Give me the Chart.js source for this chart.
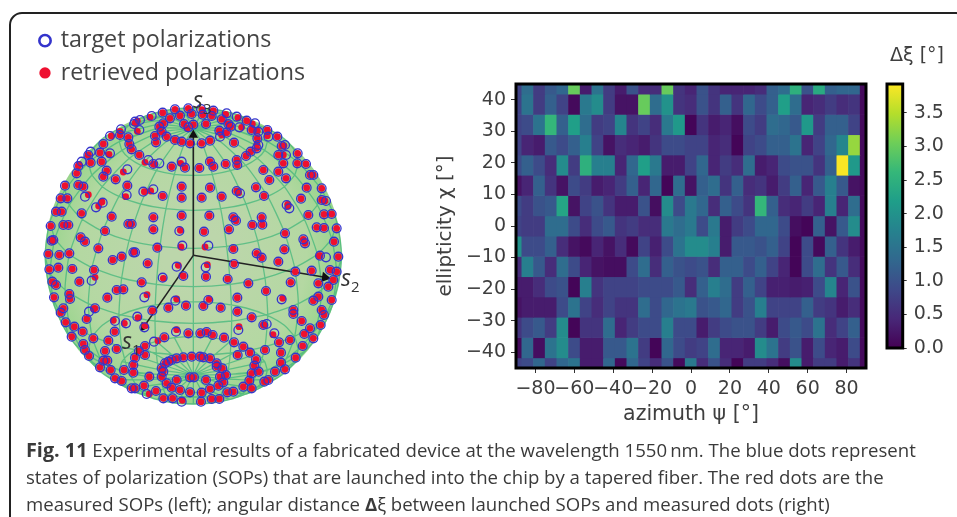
<!DOCTYPE html>
<html><head><meta charset="utf-8">
<script src="https://cdn.jsdelivr.net/npm/chart.js@4"></script>
<style>
html,body{margin:0;padding:0;background:#fff;width:957px;height:517px;overflow:hidden}
canvas{position:absolute;filter:blur(.6px)}
#frame{position:absolute;left:9px;top:12px;width:960px;height:520px;border:2px solid #222;border-radius:13px;box-sizing:border-box}
.cap{position:absolute;left:26px;font:18.6px 'Open Sans',sans-serif;color:#3a3a3a;white-space:nowrap;filter:blur(.3px)}
.cap b.fig{font-size:19.8px}
.axl{position:absolute;font:italic 23px 'Open Sans',sans-serif;color:#333;line-height:1;filter:blur(.4px)}
.axl sub{font-size:15px;font-style:normal}
</style></head><body>
<div id="frame"></div>
<canvas id="sphere" width="440" height="400" style="left:0;top:20px"></canvas>
<canvas id="heat" width="450" height="368" style="left:430px;top:60px"></canvas>
<canvas id="bar" width="87" height="330" style="left:870px;top:40px"></canvas>
<span class="axl" style="left:193px;top:88px"><i>s</i><sub>3</sub></span>
<span class="axl" style="left:122px;top:329px"><i>s</i><sub>1</sub></span>
<span class="axl" style="left:341px;top:266px"><i>s</i><sub>2</sub></span>
<div class="cap" style="top:436px"><b class="fig">Fig. 11</b> Experimental results of a fabricated device at the wavelength 1550&#8201;nm. The blue dots represent</div>
<div class="cap" style="top:464px">states of polarization (SOPs) that are launched into the chip by a tapered fiber. The red dots are the</div>
<div class="cap" style="top:491px">measured SOPs (left); angular distance <b>Δ</b>ξ between launched SOPs and measured dots (right)</div>
<script>
// ---------- right panel: angular distance per (azimuth, ellipticity) ----------
const azimuths=[-90,-84,-78,-72,-66,-60,-54,-48,-42,-36,-30,-24,-18,-12,-6,0,6,12,18,24,30,36,42,48,54,60,66,72,78,84,90];
const ellipticities=[45,38.57,32.14,25.71,19.29,12.86,6.43,0,-6.43,-12.86,-19.29,-25.71,-32.14,-38.57,-45];
const azimuthTicks=[-80,-60,-40,-20,0,20,40,60,80];
const ellipticityTicks=[-40,-30,-20,-10,0,10,20,30,40];
const colorbarTicks=[0,.5,1,1.5,2,2.5,3,3.5];
const distanceRow0=[.8,1.4,.7,1.1,1.3,3,.3,1.5,.7,.3,1,.5,.5,3,.6,.4,1,.6,.4,.4,.4,.5,1.2,1.4,2.5,1,2.4,1.2,1.3,1.3,.1];
const distanceRow1=[.8,1.5,.7,1.2,.8,.1,1.6,1.9,.7,.2,.2,3,1.4,2,.6,.5,1,.6,1.2,.6,1.3,.9,1.2,2.2,1.4,.4,.5,.7,.5,.6,.1];
const distanceRow2=[.8,.9,1.5,2.6,1.2,2.2,1.4,.7,.8,1.8,.6,.8,.5,1.6,2.1,.05,.6,.3,.4,.15,.9,.7,1.4,1.3,1.1,2.1,.7,1.2,1.2,.8,.1];
const distanceRow3=[.8,.4,.3,1.1,.9,1.2,1.7,.8,.2,.5,.4,.3,.6,.9,.9,.8,.8,.4,.5,.05,.8,.9,1.2,1.2,1.5,.4,.8,1.3,1.8,3.3,.1];
const distanceRow4=[.9,1.2,.9,.5,1.9,.7,2.5,1.7,1.7,.4,1.3,2.2,1.6,.3,.3,.8,1.3,.4,.7,.5,1.4,.3,.4,.9,1,1,.6,1.2,3.9,2.1,.1];
const distanceRow5=[.2,.4,1.2,.6,.2,.9,.7,.3,.4,.7,1.2,.4,1.3,.05,1.4,.2,1.2,1.4,.6,1.2,.5,.6,.3,.7,1.2,.4,1.1,1.7,1.1,.2,.1];
const distanceRow6=[.9,.7,1,1.1,2.3,.2,.8,1,.6,.3,.3,1,.15,1.9,.9,1.6,1.3,.5,1.2,.9,.6,2.6,1.2,.5,.4,.7,.4,1.7,.4,1.4,.1];
const distanceRow7=[.8,.7,.7,1.4,1.4,.9,.5,.9,1.1,.6,.7,.5,.5,1.6,1.4,1.6,.9,1.6,.3,.7,.9,1.3,1.3,.9,.15,.05,1.2,.2,1.1,1.9,.1];
const distanceRow8=[2,.9,.9,1.2,.5,.2,.1,.4,.2,.5,.1,.8,.35,.9,1.5,1.9,1.9,1.7,.3,1.1,1.1,1,1.2,.8,.05,.9,.1,1.2,.6,.3,.1];
const distanceRow9=[.5,1.7,1.1,.5,1.4,.9,.4,.2,.15,.15,.9,1.4,.5,1.2,1,.9,1,.5,1.2,1.2,.9,1.2,.8,.4,.05,.9,1.4,.6,1.1,.5,.1];
const distanceRow10=[.3,.3,.5,.9,1,.05,1.7,.6,.8,.8,.8,.9,.9,.9,1.1,.5,1.2,1.7,1.4,.7,1.2,.8,.35,.35,.3,.35,.9,1.8,.4,1,.1];
const distanceRow11=[.2,.3,.3,.3,.9,1.5,.8,.5,.8,.6,.6,1.4,.9,1.3,1.5,1.6,1,1.1,1.3,.7,1,1.7,.8,.8,.8,1.2,.7,.6,.3,.5,.1];
const distanceRow12=[.6,.9,1.1,.7,1.9,.05,.6,.6,1.4,.4,.7,.9,.9,1.7,.9,.9,.3,.7,.9,1,1,.7,.3,.9,1.1,.9,1.5,.5,.8,1.2,.1];
const distanceRow13=[.1,1.3,.15,1.5,1.9,.9,.3,.3,1.1,1.1,1.5,.7,.05,1.3,.9,.7,.8,1.4,.4,.4,.3,1.9,1.5,.7,1,.3,.9,.4,.3,.9,.1];
const distanceRow14=[.8,.9,1.3,.8,1.3,1.5,.3,.3,1.3,.1,1.3,.8,.5,1,.1,1.6,.5,1,.5,.05,.7,.7,.5,.15,1.9,.3,.7,.7,.3,.6,.1];
const distanceRows=[distanceRow0,distanceRow1,distanceRow2,distanceRow3,distanceRow4,distanceRow5,distanceRow6,distanceRow7,distanceRow8,distanceRow9,distanceRow10,distanceRow11,distanceRow12,distanceRow13,distanceRow14];
const viridisStops=['#440154','#482878','#3e4989','#31688e','#26828e','#1f9e89','#35b779','#6ece58','#b5de2b','#fde725'];
const colorMax=3.93;

// ---------- left panel: projected positions read off the sphere ----------
// [x, y, dx, dy]: x,y locate the target state; dx,dy the shift of the retrieved state from it
const polarPoints=[
[492,312],[520,314],[558,312],[505,322,-3,3],
[428,278],[465,268],[505,265],[543,267,3,2],[580,272],[620,280,-3,3],
[430,310],[450,295],[480,287],[515,282],[548,284],[575,288],[605,298],[625,312],[632,320],[620,338],[600,350,5,-5],[570,362],[545,370],[510,370],[485,365],[465,360],[440,350],[425,335],[418,320],
[395,288,-5,4],[360,300,-8,3],[342,312,4,-3],[303,328,-3,6],[270,348,4,0],[300,345],[325,352],[358,330,-6,4],[345,305,2,4],
[650,290,4,3],[680,302],[705,310,-8,2],[695,330],[715,335,-3,-2],[742,330],[745,350,-3,-3],[772,350],[712,355],[715,375,-4,-3],[795,375,-3,2],[785,378],[710,385],[692,395],[678,408],
[405,348],[408,367],[642,368],[658,322,7,0],[598,332],
[250,372],[328,372],[335,388],[358,405],[385,420,-10,7],[400,432],[418,430,-14,3],[212,395,-8,10],[240,398],[270,400,-3,3],[205,405],[185,425,-8,8],[175,438],[212,428],[245,425],[322,448,-12,8],[260,452],[250,470],[287,478],[170,460],[322,497],[135,497],[175,495],[190,500],
[485,425,-3,5],[495,443],[455,440],[538,444],[570,425],[580,440],[617,432],[650,420],[652,435],[730,450],[775,455],[748,480],[798,475],[790,430],[775,405],[798,405,-8,0],[833,400],[832,430],[858,432],[870,465],[880,465],[860,503],[905,505],[905,540],[918,543,-3,0],
[320,525,-3,5],[370,515,3,0],[400,508,-8,5],[428,528],[485,500],[485,533],[570,503],[545,533],[605,530],[650,513],[660,520,-4,-2],[708,502],[732,528],[800,555,3,-2],[808,565,-4,-6],[843,536],[865,585],[912,583],[935,582],
[122,535],[142,535],[195,530,10,-6],[248,548,-2,-2],[228,562,8,-4],[108,575],[125,575],[185,580],[275,590],[400,592],[485,587],[568,587],[640,592],[725,592],
[92,618],[130,615],[145,615],[255,633],[325,612],[335,612],[400,628],[478,633,3,-2],[552,635],[627,628],[648,602],[697,615],[727,614],[795,640],[890,622],[912,624],[950,625],[850,658],[855,670],[942,665],
[100,660],[95,662],[182,652],[195,665],[235,685],[345,697,-2,-2],[412,683],[487,677,-4,4],[565,677,-10,4],[640,687],[710,700],[725,713],[793,688],[85,702],[118,705],[148,700],[278,720],[305,710],[340,697],[383,730],[775,725],[900,707],[918,712,-20,-4],[955,710],[470,740,5,-4],[557,742,5,-8],[642,732],
[88,748],[115,743],[157,747],[222,750],[215,782,10,-10],[365,787],[428,773,2,2],[490,768],[558,770],[623,777],[685,790],[738,813],[812,787],[826,755],[875,752],[895,790],[930,750],[950,755],[940,780],[925,800],[935,840],[895,830],[880,842],[785,838,3,-3],[652,833],
[97,785],[108,795],[178,785],[102,832],[148,822],[150,837],[262,833],[290,810],[310,808],[373,832,8,-8],[466,842,4,-5],[445,863],[498,857],[550,858],[565,840,2,-2],[602,863],[652,875],[695,892],
[130,865],[122,878],[200,897],[225,865],[207,875,14,-8],[137,907],[163,920],[285,903,-5,-2],[318,910,-5,0],[352,890,2,3],[397,872],[373,922,2,-5],[820,870],[820,882],[845,903],[905,870],[912,885],[902,915],[870,925],[853,942],[880,955],[810,960],[777,967],[763,940,-4,4],[740,912,-8,3],[730,915],[655,930,2,-10],
[468,935,2,-6],[505,940],[541,940],[560,936],[578,945],[612,953],[642,967],[670,980],[690,998],[708,1018],[703,1037],[653,1005],[735,990],[783,998],[848,978],[827,1013],[783,1028],[795,1048],[765,1055],[745,1080],[733,1085],[716,1055],[695,1060],[688,1082],[670,1100],[695,1105],[640,1115],[622,1117],[598,1137],[575,1137],[543,1145],[485,1145,2,-4],[458,1135],[430,1135],[408,1113],[380,1122,8,0],[345,1105],[335,1105],[372,1097],[388,1070],[340,1035],[340,1058],[345,1013],[375,1005],[357,993],[375,978],[402,965,12,-3],[433,952],
[290,987],[265,962],[284,935],[220,955],[188,935],[155,950],[190,972],[195,990],[207,1008],[250,1022],[262,1022],[240,1042],[255,993],[272,1050],[285,1075],[305,1083],[312,1050],
[425,1045],[435,1030],[455,1020],[490,1012],[515,1010],[540,1010],[570,1015],[590,1030],[607,1045],[618,1065],[610,1087],[595,1097],[570,1107],[545,1118],[510,1117],[480,1110],[455,1103],[440,1090],[425,1070],[445,1025],[470,1015],[550,1012],[590,1040],[600,1070],[430,1055],
[470,1080],[510,1072],[522,1072],[558,1080]
];
const sphereCentre=[520,708];
const axisOrigin=[520,706];
const axisS3Tip=[520,345];
const axisS2Tip=[915,772];
const axisS1Tip=[372,920];
// wireframe: rows are parallels, columns meridians; lower half of each ring as seen in the picture
const mirror=a=>a.concat(a.slice(0,-1).reverse());
const poleTop=[520,325], poleBottom=[520,1065];
const meshX=[
[415,419,429,446,468,493,520,547,572,594,611,621,625],
[298,306,328,363,409,463,520,577,631,677,712,734,742],
[205,216,247,297,362,438,520,602,678,743,793,824,835],
[135,148,187,248,327,420,520,620,713,792,853,892,905],
[90,105,148,216,305,409,520,631,735,824,892,935,950],
[75,90,135,205,297,405,520,635,743,835,905,950,965],
[90,105,148,216,305,409,520,631,735,824,892,935,950],
[135,148,187,248,327,420,520,620,713,792,853,892,905],
[205,216,247,297,362,438,520,602,678,743,793,824,835],
[298,306,328,363,409,463,520,577,631,677,712,734,742],
[415,419,429,446,468,493,520,547,572,594,611,621,625]];
const meshY=[
[325,337,349,359,367,371,373],[365,391,415,436,452,463,466],[428,465,500,529,552,566,571],
[510,555,598,634,662,679,685],[605,656,703,743,774,793,800],[708,760,809,851,883,903,910],
[811,862,909,949,980,999,1006],[906,951,994,1030,1058,1075,1081],[988,1025,1060,1089,1112,1126,1131],
[1051,1077,1101,1122,1138,1149,1152],[1063,1077,1091,1102,1111,1116,1118]];
const meshRearY={0:[325,313,301,291,283,279,277],1:[365,339,315,294,278,267,264],2:[428,391,356,327,304,290,285],
8:[988,951,916,887,864,850,845],9:[1051,1025,1001,980,964,953,950],10:[1063,1049,1035,1024,1015,1010,1008]};

const wirePoints=[];
const gap=()=>wirePoints.push({x:NaN,y:NaN});
meshX.forEach((xs,r)=>{
  const ys=mirror(meshY[r]);
  xs.forEach((x,c)=>wirePoints.push({x,y:ys[c]})); gap();
  if(meshRearY[r]){const yr=mirror(meshRearY[r]);xs.forEach((x,c)=>wirePoints.push({x,y:yr[c]})); gap();}
});
meshX[0].forEach((_,c)=>{
  wirePoints.push({x:poleTop[0],y:poleTop[1]});
  meshX.forEach((xs,r)=>wirePoints.push({x:xs[c],y:mirror(meshY[r])[c]}));
  wirePoints.push({x:poleBottom[0],y:poleBottom[1]}); gap();
  wirePoints.push({x:poleTop[0],y:poleTop[1]});
  wirePoints.push({x:meshX[0][c],y:mirror(meshRearY[0])[c]});
  wirePoints.push({x:meshX[1][c],y:mirror(meshRearY[1])[c]}); gap();
  wirePoints.push({x:poleBottom[0],y:poleBottom[1]});
  wirePoints.push({x:meshX[10][c],y:mirror(meshRearY[10])[c]});
  wirePoints.push({x:meshX[9][c],y:mirror(meshRearY[9])[c]}); gap();
});

const pt=a=>({x:a[0],y:a[1]});
const INK='#3f3f3f';
function lerpHex(a,b,t){const p=h=>[1,3,5].map(i=>parseInt(h.substr(i,2),16));const A=p(a),B=p(b);
  return 'rgb('+A.map((v,i)=>Math.round(v+(B[i]-v)*t)).join(',')+')';}
function viridis(v){const t=Math.min(1,Math.max(0,v/colorMax))*(viridisStops.length-1);const i=Math.min(viridisStops.length-2,Math.floor(t));
  return lerpHex(viridisStops[i],viridisStops[i+1],t-i);}
const framePlugin={id:'frame',afterDatasetsDraw(c){const a=c.chartArea,x=c.ctx;x.save();x.strokeStyle='#000';x.lineWidth=3;
  x.strokeRect(a.left,a.top,a.right-a.left,a.bottom-a.top);x.restore();}};
const tickFont={family:'DejaVu Sans',size:19};

// sphere
new Chart(document.getElementById('sphere'),{
  type:'scatter',
  data:{datasets:[
    {label:'target polarizations',data:polarPoints.map(p=>({x:p[0],y:p[1]})),pointStyle:'circle',pointRadius:4.4,pointBorderWidth:1.3,pointBorderColor:'#3434cc',pointBackgroundColor:'rgba(0,0,0,0)',borderColor:'#3434cc',backgroundColor:'rgba(0,0,0,0)',order:1},
    {label:'retrieved polarizations',data:polarPoints.map(p=>({x:p[0]+(p[2]||0),y:p[1]+(p[3]||0)})),pointStyle:'circle',pointRadius:3.4,pointBorderWidth:0,pointBackgroundColor:'#ee1030',borderColor:'#ee1030',backgroundColor:'#ee1030',order:2},
    {label:'s3',data:[axisOrigin,axisS3Tip].map(pt),showLine:true,borderColor:'#222',borderWidth:1.6,pointRadius:[0,5.5],pointStyle:'triangle',pointRotation:[0,0],pointBackgroundColor:'#111',pointBorderWidth:0,order:3},
    {label:'s2',data:[axisOrigin,axisS2Tip].map(pt),showLine:true,borderColor:'#222',borderWidth:1.6,pointRadius:[0,6],pointStyle:'triangle',pointRotation:[0,100],pointBackgroundColor:'#111',pointBorderWidth:0,order:3},
    {label:'s1',data:[axisOrigin,axisS1Tip].map(pt),showLine:true,borderColor:'#222',borderWidth:1.6,pointRadius:[0,5.5],pointStyle:'triangle',pointRotation:[0,215],pointBackgroundColor:'#111',pointBorderWidth:0,order:3},
    {label:'mesh',data:wirePoints,showLine:true,spanGaps:false,tension:.2,borderColor:'rgba(62,182,122,.72)',borderWidth:1.3,pointRadius:0,order:4},
    {label:'ball',data:[pt(sphereCentre)],pointRadius:148.5,pointBorderWidth:0,clip:false,order:5,
     pointBackgroundColor(ctx){const c=ctx.chart,a=c.chartArea;if(!a)return '#b5d6a4';
       const X=c.scales.x.getPixelForValue(sphereCentre[0]),Y=c.scales.y.getPixelForValue(sphereCentre[1]);
       const g=c.ctx.createRadialGradient(X,Y,30,X,Y,149);g.addColorStop(0,'#bcd6ab');g.addColorStop(.7,'#b4d8a2');g.addColorStop(1,'#98d48c');return g;}}
  ]},
  options:{responsive:false,animation:false,devicePixelRatio:1,layout:{padding:{left:32},autoPadding:false},
    scales:{x:{type:'linear',display:false,min:36,max:1260},y:{type:'linear',display:false,min:0,max:1200,reverse:true}},
    plugins:{tooltip:{enabled:false},title:{display:false},
      legend:{position:'chartArea',align:'start',padding:{top:7},
        labels:{usePointStyle:true,boxWidth:8,boxHeight:8,padding:9,color:'#444',font:{family:'Open Sans',size:23.3},
          filter:i=>i.datasetIndex<2,
          generateLabels(c){return c.data.datasets.slice(0,2).map((d,i)=>({text:d.label,datasetIndex:i,pointStyle:'circle',
            fillStyle:i?'#ee1030':'rgba(0,0,0,0)',strokeStyle:i?'#ee1030':'#3434cc',lineWidth:i?0:2.6,fontColor:'#444'}));}}}}
  }
});

// heat map
const stepChi=90/14;
new Chart(document.getElementById('heat'),{
  type:'bar',
  data:{datasets:ellipticities.map((chi,j)=>({
    label:'χ '+chi,
    data:azimuths.map(psi=>({x:psi,y:[chi-stepChi/2,chi+stepChi/2]})),
    backgroundColor:distanceRows[j].map(viridis),
    borderWidth:0,grouped:false,categoryPercentage:1,barPercentage:1}))},
  options:{responsive:false,animation:false,devicePixelRatio:1,
    layout:{padding:{top:24,right:14,left:0,bottom:0}},
    plugins:{legend:{display:false},tooltip:{enabled:false}},
    scales:{
      x:{type:'linear',min:-90,max:90,offset:false,
        afterBuildTicks(s){s.ticks=azimuthTicks.map(value=>({value}));},
        afterFit(s){s.height=60;},
        grid:{display:true,drawOnChartArea:false,drawTicks:true,tickLength:5,color:'#333',offset:false},border:{display:false},
        ticks:{font:tickFont,color:INK,minRotation:0,maxRotation:0,autoSkip:false,padding:5,callback:v=>String(v).replace('-','−')},
        title:{display:true,text:'azimuth ψ [°]',font:{family:'DejaVu Sans',size:20.5},color:INK,padding:{top:0,bottom:1}}},
      y:{type:'linear',min:-45,max:45,
        afterBuildTicks(s){s.ticks=ellipticityTicks.map(value=>({value}));},
        afterFit(s){s.width=86;},
        grid:{display:true,drawOnChartArea:false,drawTicks:true,tickLength:5,color:'#333'},border:{display:false},
        ticks:{font:tickFont,color:INK,autoSkip:false,padding:5,callback:v=>String(v).replace('-','−')},
        title:{display:true,text:'ellipticity χ [°]',font:{family:'DejaVu Sans',size:20},color:INK,padding:{top:4,bottom:0}}}
    }},
  plugins:[framePlugin]
});

// colour bar
new Chart(document.getElementById('bar'),{
  type:'bar',
  data:{labels:['Δξ'],datasets:[{data:[[0,colorMax]],borderWidth:0,categoryPercentage:1,barPercentage:1,
    backgroundColor(ctx){const c=ctx.chart,a=c.chartArea;if(!a)return '#000';
      const g=c.ctx.createLinearGradient(0,a.bottom,0,a.top);viridisStops.forEach((s,i)=>g.addColorStop(i/(viridisStops.length-1),s));return g;}}]},
  options:{responsive:false,animation:false,devicePixelRatio:1,
    layout:{padding:{left:17,right:13,top:0,bottom:22}},
    plugins:{legend:{display:false},tooltip:{enabled:false},
      title:{display:true,text:'Δξ [°]',align:'end',color:INK,font:{family:'DejaVu Sans',size:19,weight:'normal'},padding:{top:5,bottom:16.2}}},
    scales:{
      x:{display:false},
      y:{type:'linear',position:'right',min:0,max:colorMax,
        afterBuildTicks(s){s.ticks=colorbarTicks.map(value=>({value}));},
        afterFit(s){s.width=41.3;},
        grid:{display:true,drawOnChartArea:false,drawTicks:true,tickLength:4,color:'#333'},border:{display:false},
        ticks:{font:tickFont,color:INK,autoSkip:false,padding:7,callback:v=>Number(v).toFixed(1)}}
    }},
  plugins:[framePlugin]
});
</script>
</body></html>
